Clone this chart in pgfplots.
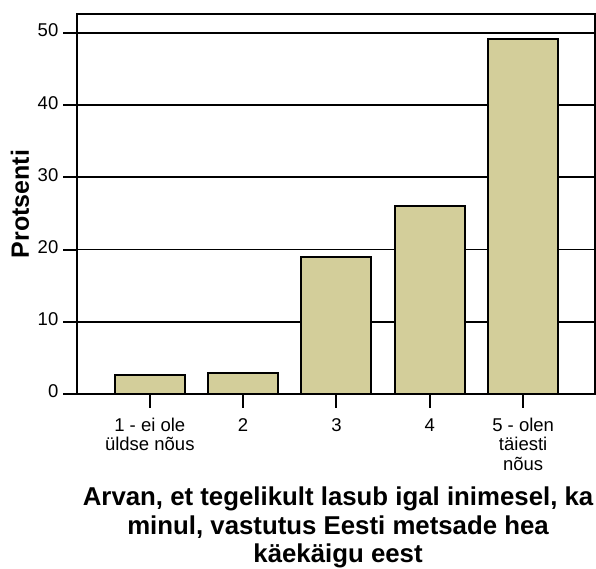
\documentclass[border=0pt]{standalone}
\usepackage{fontspec}
\setmainfont{Liberation Sans}
\usepackage{pgfplots}
\pgfplotsset{compat=1.18}
\definecolor{barfill}{RGB}{211,206,154}
\begin{document}
\begin{tikzpicture}[x=1pt,y=1pt]
\useasboundingbox (0,0) rectangle (596,569);
\begin{axis}[
    at={(77pt,175pt)}, anchor=south west,
    width=518pt, height=380pt, scale only axis,
    xmin=0.22, xmax=5.77, ymin=0, ymax=52.6,
    axis line style={line width=2.2pt},
    ytick={0,10,20,30,40,50},
    xtick={1,2,3,4,5},
    xticklabels={{1 - ei ole\\üldse nõus},2,3,4,{5 - olen\\täiesti\\nõus}},
    xtick pos=bottom, ytick pos=left,
    tick align=outside,
    major tick length=14pt,
    tick style={black, line width=2pt},
    ymajorgrids,
    grid style={black, line width=1.8pt},
    /pgf/number format/assume math mode=true,
    typeset ticklabels with strut,
    xticklabel style={font=\fontsize{18.5}{19.5}\selectfont, align=center, anchor=north, inner sep=0pt, yshift=-9.4pt},
    yticklabel style={font=\fontsize{18.5}{20}\selectfont, anchor=east, inner sep=0pt, xshift=-4.5pt},
    ylabel={Protsenti},
    ylabel style={font=\fontsize{25}{28}\selectfont\bfseries, at={(axis description cs:-0.110,0.5)}, anchor=center, inner sep=0pt},
    xlabel={Arvan, et tegelikult lasub igal inimesel, ka\\minul, vastutus Eesti metsade hea\\käekäigu eest},
    xlabel style={font=\fontsize{25.8}{28.5}\selectfont\bfseries, align=center, at={(axis description cs:0.504,-0.245)}, anchor=north, inner sep=0pt},
]
\addplot[ybar, bar width=0.75, fill=barfill, draw=black, line width=2pt]
coordinates {(1,2.6) (2,2.9) (3,18.9) (4,26.0) (5,49.1)};
\end{axis}
\end{tikzpicture}
\end{document}
